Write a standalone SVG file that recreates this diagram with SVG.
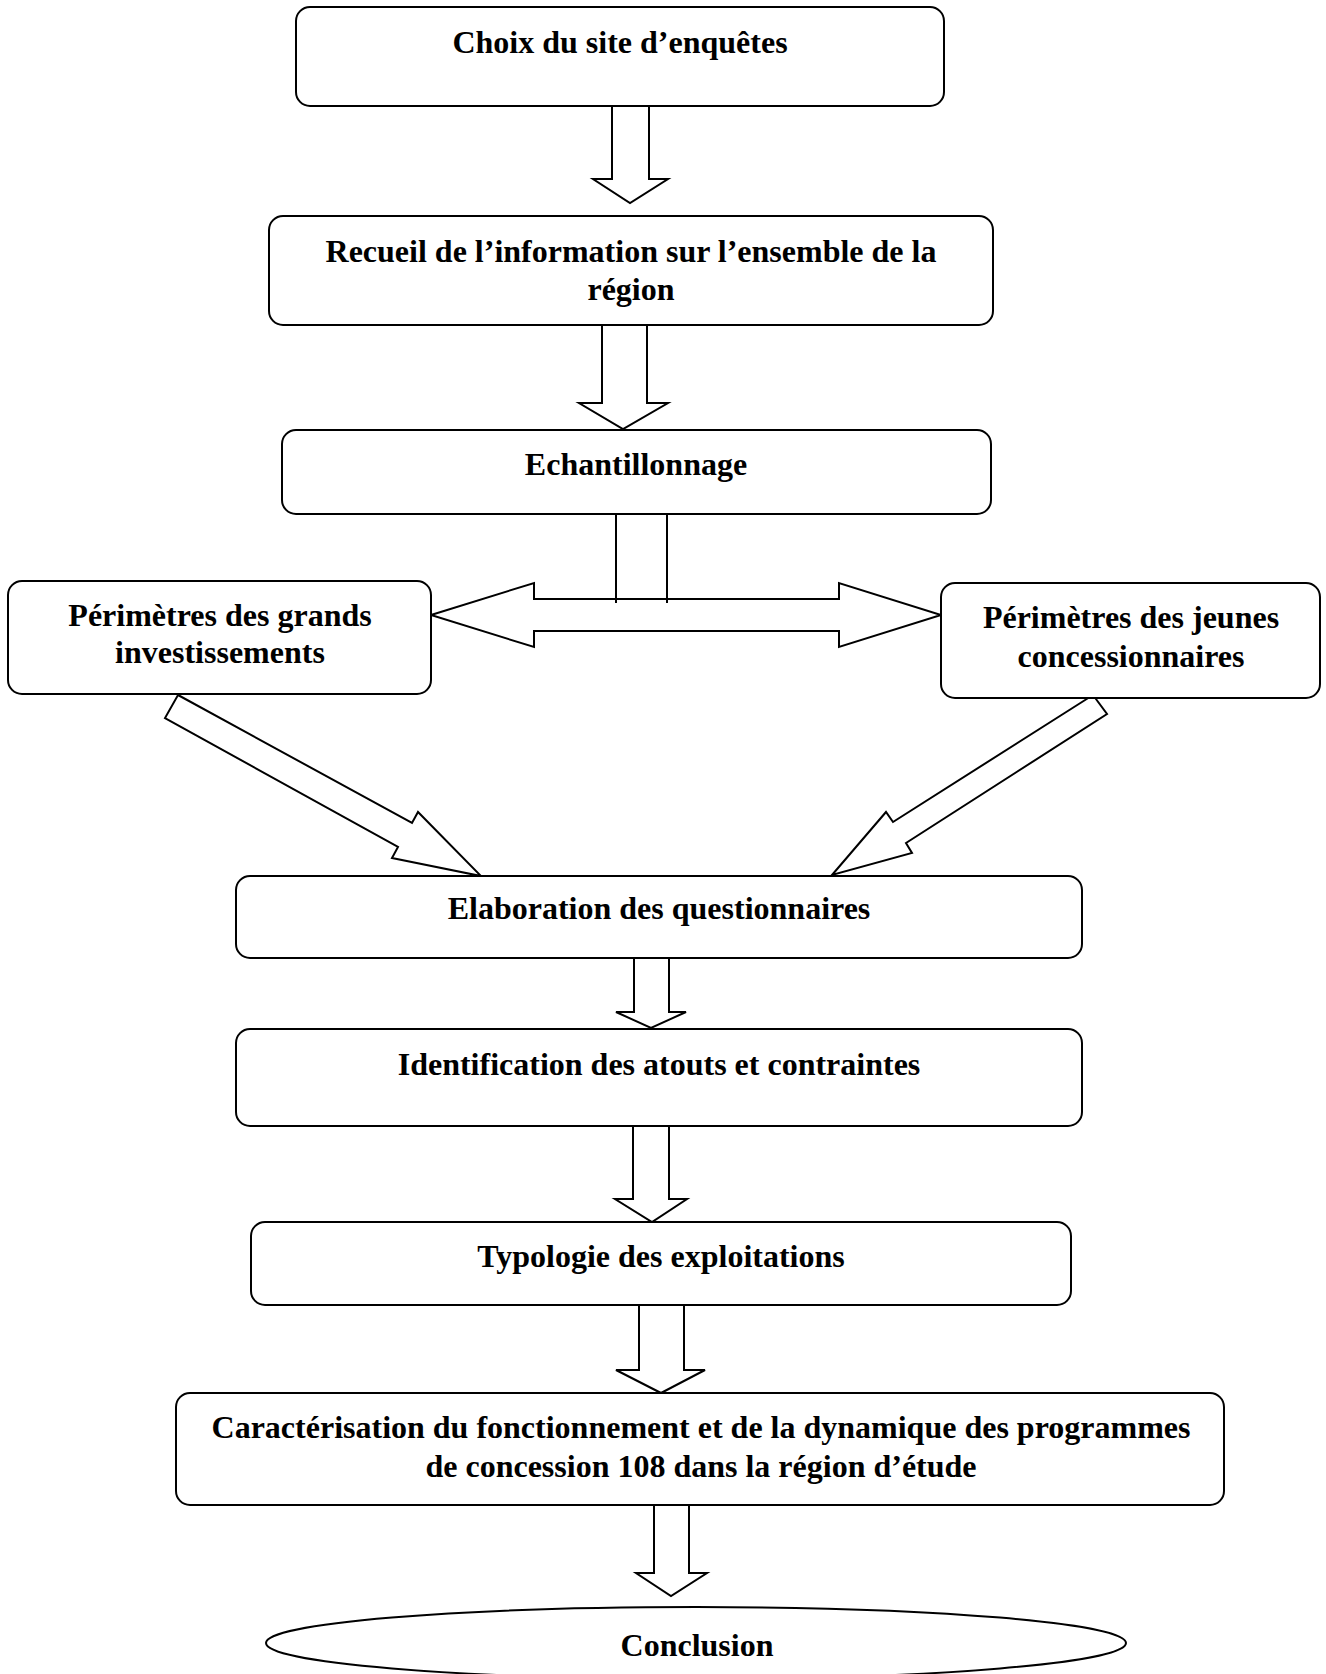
<svg xmlns="http://www.w3.org/2000/svg" width="1326" height="1674" viewBox="0 0 1326 1674">
<style>
.box{fill:#fff;stroke:#000;stroke-width:2}
.arr{fill:#fff;stroke:#000;stroke-width:2;stroke-linejoin:miter}
.ln{stroke:#000;stroke-width:2;fill:none}
text{font-family:"Liberation Serif","Times New Roman",serif;font-weight:bold;font-size:32px;fill:#000;text-anchor:middle}
</style>
<rect width="1326" height="1674" fill="#fff"/>
<g id="connectors">
<polygon class="arr" points="612,106 649,106 649,179 668,179 630,203 593,179 612,179"/>
<polygon class="arr" points="602,325 647,325 647,403 668,403 623,429 579,403 602,403"/>
<polygon class="arr" points="431,615 534,583 534,599 839,599 839,583 941,615 839,647 839,631 534,631 534,647"/>
<line class="ln" x1="616" y1="514" x2="616" y2="603"/>
<line class="ln" x1="667" y1="514" x2="667" y2="603"/>
<polygon class="arr" points="178,695 412,823 418,812 481,876 392,858 398,847 165,718"/>
<polygon class="arr" points="1093,695 893,822 886,812 832,875 912,853 906,843 1107,714"/>
<polygon class="arr" points="634,958 669,958 669,1012 686,1012 651,1028 616,1012 634,1012"/>
<polygon class="arr" points="633,1126 669,1126 669,1199 687,1199 652,1222 615,1199 633,1199"/>
<polygon class="arr" points="639,1305 684,1305 684,1370 705,1370 661,1393 616,1370 639,1370"/>
<polygon class="arr" points="654,1505 689,1505 689,1573 707,1573 671,1596 636,1573 654,1573"/>
</g>
<g id="n1"><rect class="box" x="296" y="7" width="648" height="99" rx="14"/><text x="620" y="53">Choix du site d’enquêtes</text></g>
<g id="n2"><rect class="box" x="269" y="216" width="724" height="109" rx="14"/><text x="631" y="262">Recueil de l’information sur l’ensemble de la</text><text x="631" y="300">région</text></g>
<g id="n3"><rect class="box" x="282" y="430" width="709" height="84" rx="14"/><text x="636" y="475">Echantillonnage</text></g>
<g id="n4"><rect class="box" x="8" y="581" width="423" height="113" rx="14"/><text x="220" y="626">Périmètres des grands</text><text x="220" y="663">investissements</text></g>
<g id="n5"><rect class="box" x="941" y="583" width="379" height="115" rx="14"/><text x="1131" y="628">Périmètres des jeunes</text><text x="1131" y="667">concessionnaires</text></g>
<g id="n6"><rect class="box" x="236" y="876" width="846" height="82" rx="14"/><text x="659" y="919">Elaboration des questionnaires</text></g>
<g id="n7"><rect class="box" x="236" y="1029" width="846" height="97" rx="14"/><text x="659" y="1075">Identification des atouts et contraintes</text></g>
<g id="n8"><rect class="box" x="251" y="1222" width="820" height="83" rx="14"/><text x="661" y="1267">Typologie des exploitations</text></g>
<g id="n9"><rect class="box" x="176" y="1393" width="1048" height="112" rx="14"/><text x="701" y="1438">Caractérisation du fonctionnement et de la dynamique des programmes</text><text x="701" y="1477">de concession 108 dans la région d’étude</text></g>
<g id="n10"><ellipse class="box" cx="696" cy="1643" rx="430" ry="36"/><text x="697" y="1656">Conclusion</text></g>
</svg>
